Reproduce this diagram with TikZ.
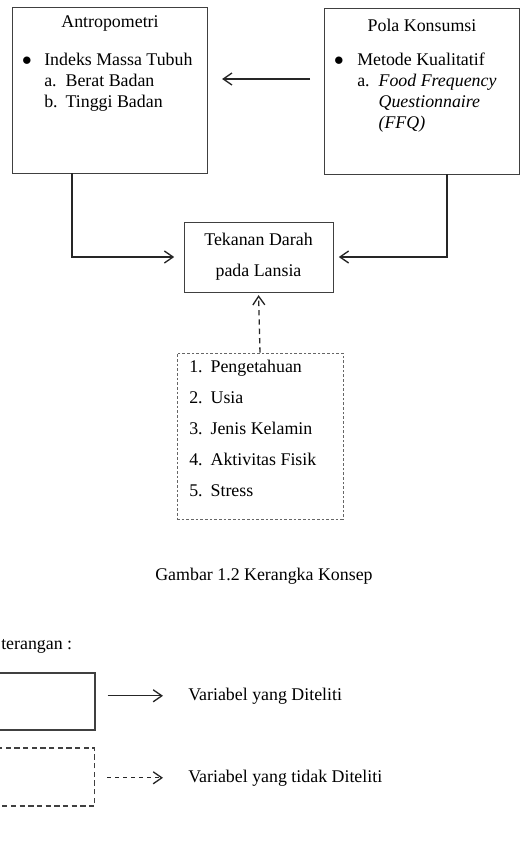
\documentclass[tikz,border=0pt]{standalone}
\usepackage{fontspec}
\setmainfont{Liberation Serif}
\usetikzlibrary{arrows.meta}
\tikzset{
  box/.style={draw=black!75,line width=.7pt,inner sep=0},
  dbox/.style={box,dash pattern=on 2pt off 1.5pt,draw=black!60,line width=.5pt},
  teks/.style={inner sep=0,font=\fontsize{13.4}{15.75}\selectfont},
  panah/.style={->,line width=1pt,draw=black!85},
}
\begin{document}
\begin{tikzpicture}[x=.75pt,y=-.75pt,>={Straight Barb[length=6.5pt,width=9pt]}]
\useasboundingbox (0,0) rectangle (529,846);
\clip (0,0) rectangle (529,846);
% kerangka konsep
\node[box,minimum width=146.25pt,minimum height=124.5pt] (A) at (109.5,90) {};
\node[box,minimum width=146.25pt,minimum height=124.5pt] (P) at (421.5,91) {};
\node[box,minimum width=111.75pt,minimum height=52.5pt,align=center,font=\fontsize{13.4}{23.25}\selectfont] (T) at (258.5,257) {Tekanan Darah\\pada Lansia};
\node[dbox,minimum width=124.5pt,minimum height=124.5pt] (D) at (260,436) {};
\node[teks] (a0) at (110,23) {Antropometri};
\node[teks] (a1) at (27,61) {$\bullet$};
\node[teks,anchor=north west,align=left] (a2) at (44,53) {Indeks Massa Tubuh\\\makebox[16pt][l]{a.}Berat Badan\\\makebox[16pt][l]{b.}Tinggi Badan};
\node[teks] (p0) at (422,25) {Pola Konsumsi};
\node[teks] (p1) at (339,61) {$\bullet$};
\node[teks,anchor=north west,align=left] (p2) at (357,53) {Metode Kualitatif\\\makebox[16pt][l]{a.}\textit{Food Frequency}\\\hspace*{16pt}\textit{Questionnaire}\\\hspace*{16pt}\textit{(FFQ)}};
\foreach \i/\isi in {1/Pengetahuan,2/Usia,3/Jenis Kelamin,4/Aktivitas Fisik,5/Stress}
  \node[teks,anchor=mid west] (d\i) at (189,{369+31*(\i-1)}) {\makebox[16pt][l]{\i.}\isi};
\draw[panah,shorten <=10pt,shorten >=11pt] (P.west |- 0,79) -- (A.east |- 0,79);
\draw[panah,shorten >=7pt] (A.south -| 72,0) |- (T.west);
\draw[panah,shorten >=4pt] (P.south -| 447,0) |- (T.east);
\draw[panah,dash pattern=on 4pt off 3pt,shorten >=2pt] (D.north) -- (T.south);
\node[teks] (cap) at (264,576) {Gambar 1.2 Kerangka Konsep};
% keterangan
\node[teks,anchor=mid west] (ket) at (1,646) {terangan :};
\node[box,line width=1pt,minimum width=153.75pt,minimum height=42.75pt] (L1) at (-7.5,701.5) {};
\node[box,line width=1pt,dash pattern=on 4pt off 2.5pt,minimum width=153.75pt,minimum height=43.5pt] (L2) at (-8,777) {};
\node[teks,anchor=mid west] (v1) at (188,697) {Variabel yang Diteliti};
\node[teks,anchor=mid west] (v2) at (188,779) {Variabel yang tidak Diteliti};
\draw[panah,shorten <=9pt,shorten >=18.75pt] (L1.east |- v1.west) -- (v1.west);
\draw[panah,dashed,shorten <=9pt,shorten >=18.75pt] (L2.east |- v2.west) -- (v2.west);
\end{tikzpicture}
\end{document}
